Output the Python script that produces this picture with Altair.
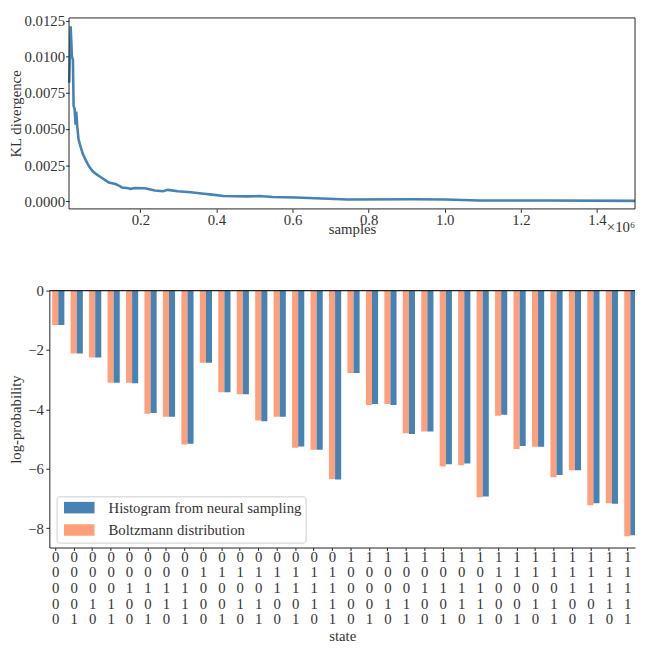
import json
import altair as alt
import pandas as pd

# ---------------- data: KL divergence vs samples ----------------
samples = [13000, 16800, 20100, 22700, 24500, 27100, 29700, 31500, 34100, 37400,
           42600, 48500, 55500, 61400, 65800, 74300, 83100, 100100, 117400, 134700,
           143200, 151700, 169000, 173400, 186300, 212100, 237900, 259400, 272300, 298100,
           332400, 367000, 388400, 418600, 478700, 513000, 547600, 607700, 659400, 745300,
           917400, 1002600, 1089500, 1261400, 1500000]
kl = [0.0082, 0.0121, 0.0100, 0.0098, 0.0066, 0.0064, 0.0053, 0.0062, 0.0052, 0.0043,
      0.0038, 0.0033, 0.0029, 0.0026, 0.0024, 0.0021, 0.0019, 0.0016, 0.0013, 0.0012,
      0.0011, 0.00097, 0.00091, 0.00087, 0.00093, 0.00091, 0.00075, 0.00071, 0.00080, 0.00071,
      0.00064, 0.00053, 0.00047, 0.00037, 0.00035, 0.00037, 0.00031, 0.00027, 0.00022, 0.00013,
      0.00015, 0.00013, 0.00007, 0.00007, 0.00004]
x_ticks = [200000, 400000, 600000, 800000, 1000000, 1200000, 1400000]
y_ticks = [0.0, 0.0025, 0.005, 0.0075, 0.01, 0.0125]
x_range = [12500, 1500000]
y_range = [-0.000515, 0.01267]

# ---------------- data: log-probabilities per state ----------------
state_labels = ["00000", "00001", "00010", "00011", "00100", "00101", "00110", "00111",
                "01000", "01001", "01010", "01011", "01100", "01101", "01110", "01111",
                "10000", "10001", "10010", "10011", "10100", "10101", "10110", "10111",
                "11000", "11001", "11010", "11011", "11100", "11101", "11110", "11111"]
hist_logp = [-1.16, -2.12, -2.25, -3.10, -3.12, -4.12, -4.25, -5.16,
             -2.43, -3.42, -3.49, -4.40, -4.25, -5.25, -5.36, -6.36,
             -2.77, -3.82, -3.85, -4.83, -4.74, -5.85, -5.82, -6.93,
             -4.18, -5.23, -5.26, -6.21, -6.05, -7.16, -7.18, -8.24]
boltz_logp = [-1.16, -2.12, -2.25, -3.10, -3.10, -4.15, -4.25, -5.18,
              -2.43, -3.42, -3.49, -4.37, -4.25, -5.29, -5.36, -6.34,
              -2.77, -3.85, -3.82, -4.80, -4.74, -5.92, -5.88, -6.96,
              -4.21, -5.33, -5.26, -6.28, -6.05, -7.23, -7.16, -8.27]
series_names = ["Histogram from neural sampling", "Boltzmann distribution"]
series_colors = ["#4682b4", "#ffa07a"]
logp_ticks = [-8, -6, -4, -2, 0]

FONT = "Liberation Serif"
TXT = "#333333"
LINE = "#222222"
BAR_W = 0.33

# ---------------- top chart ----------------
# The top panel's frame starts TOP_OFF px right of the shared left edge.
W = 595
TOP_OFF = 20
TOP_H = 194
BOT_H = 261
data_w = W - TOP_OFF
x_min = x_range[0] - TOP_OFF * (x_range[1] - x_range[0]) / data_w

top_x_scale = alt.Scale(domain=[x_min, x_range[1]], nice=False, zero=False)
top_y_scale = alt.Scale(domain=y_range, nice=False, zero=False)
top_x_axis = alt.Axis(values=x_ticks, labelExpr="format(datum.value / 1000000, '.1f')",
                      title="samples", titlePadding=-6, titleX=(TOP_OFF + W) / 2,
                      tickSize=3.5, labelPadding=0, labelFlush=False, domain=False)
top_y_axis = alt.Axis(values=y_ticks, format=".4f", title="KL divergence",
                      titlePadding=0.5, tickSize=3.5, labelPadding=1, domain=False,
                      offset=-TOP_OFF, labelOverlap=False)

kl_df = pd.DataFrame({"samples": samples, "kl": kl})

line = alt.Chart(kl_df).mark_line(color="#4682b4", strokeWidth=2.6, clip=True).encode(
    x=alt.X("samples:Q", scale=top_x_scale, axis=top_x_axis),
    y=alt.Y("kl:Q", scale=top_y_scale, axis=top_y_axis),
)
frame = alt.Chart(alt.Data(values=[{}])).mark_rect(
    fillOpacity=0, stroke=LINE, strokeWidth=1
).encode(
    x=alt.X(datum=x_range[0], type="quantitative", scale=top_x_scale, axis=top_x_axis),
    x2=alt.X2(datum=x_range[1]),
    y=alt.Y(datum=y_range[1], type="quantitative", scale=top_y_scale, axis=top_y_axis),
    y2=alt.Y2(datum=y_range[0]),
)
offset_text = alt.Chart(alt.Data(values=[{}])).mark_text(
    text="×10⁶", font=FONT, fontSize=15, color=TXT, align="right", baseline="alphabetic"
).encode(x=alt.value(W), y=alt.value(TOP_H + 23))

top = alt.layer(line, frame, offset_text).properties(
    width=W, height=TOP_H,
    view=alt.ViewBackground(stroke="transparent"),
)

# ---------------- bottom chart ----------------
rows = []
for i in range(len(state_labels)):
    rows.append({"i": i, "series": series_names[1], "slot": 0, "value": boltz_logp[i]})
    rows.append({"i": i, "series": series_names[0], "slot": 1, "value": hist_logp[i]})
bar_df = pd.DataFrame(rows)

label_expr = "split(" + json.dumps(state_labels) + "[datum.value], '')"

bot_y_scale = alt.Scale(domain=[-8.65, 0], nice=False, zero=False)
bot_y_axis = alt.Axis(values=logp_ticks, format="d", title="log-probability",
                      titlePadding=4, tickSize=3.5, labelPadding=2.5)

bars = alt.Chart(bar_df).transform_calculate(
    x0=f"datum.i - {BAR_W / 2} + datum.slot * {BAR_W}",
    x1=f"datum.i + {BAR_W / 2} + datum.slot * {BAR_W}",
).mark_bar(clip=True).encode(
    x=alt.X("x0:Q",
            scale=alt.Scale(domain=[-0.32, 31.42], nice=False, zero=False),
            axis=alt.Axis(values=list(range(len(state_labels))), labelExpr=label_expr,
                          title="state", titlePadding=2, tickSize=3, labelPadding=-1,
                          labelLineHeight=15.9, labelFlush=False, labelOverlap=False,
                          labelBaseline="top")),
    x2="x1:Q",
    y=alt.Y("value:Q", scale=bot_y_scale, axis=bot_y_axis),
    y2=alt.datum(0),
    color=alt.Color("series:N",
                    scale=alt.Scale(domain=series_names, range=series_colors),
                    legend=alt.Legend(title=None, orient="none", legendX=7.4, legendY=209,
                                      symbolType="M-2.583,-0.975H2.583V0.975H-2.583Z",
                                      symbolSize=144, symbolOffset=11.5,
                                      symbolStrokeWidth=0, labelFont=FONT, labelFontSize=15,
                                      labelColor=TXT, labelOffset=22.2, rowPadding=6.7,
                                      padding=4, strokeColor="#cccccc", fillColor="white",
                                      cornerRadius=3, labelLimit=0)),
)
top_rule = alt.Chart(alt.Data(values=[{}])).mark_rule(color=LINE, strokeWidth=1.2).encode(
    y=alt.Y(datum=0, type="quantitative", scale=bot_y_scale, axis=bot_y_axis)
)

bottom = alt.layer(bars, top_rule).properties(
    width=W, height=BOT_H,
    view=alt.ViewBackground(stroke="transparent"),
)

chart = alt.vconcat(top, bottom, spacing=47).properties(
    padding=0
).resolve_legend(color="independent").configure(
    font=FONT
).configure_axis(
    labelFont=FONT, titleFont=FONT, labelFontSize=15, titleFontSize=15,
    labelColor=TXT, titleColor=TXT, tickColor=LINE, domainColor=LINE,
    titleFontWeight="normal", grid=False, tickWidth=1, domainWidth=1,
)

chart.save("out.html", embed_options={"renderer": "svg", "actions": False})
